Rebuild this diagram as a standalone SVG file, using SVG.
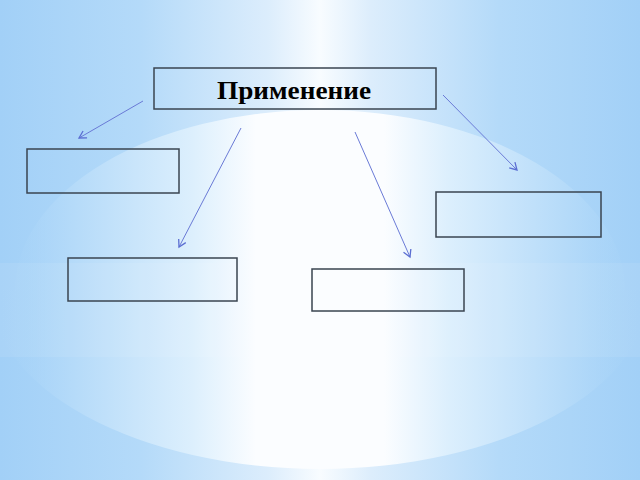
<svg xmlns="http://www.w3.org/2000/svg" width="640" height="480" viewBox="0 0 640 480">
  <defs>
    <linearGradient id="bg" x1="0" y1="0" x2="640" y2="0" gradientUnits="userSpaceOnUse">
      <stop offset="0" stop-color="#a2d0f7"/>
      <stop offset="0.22" stop-color="#b4daf9"/>
      <stop offset="0.42" stop-color="#dcedfc"/>
      <stop offset="0.5" stop-color="#f8fcff"/>
      <stop offset="0.58" stop-color="#dcedfc"/>
      <stop offset="0.78" stop-color="#b4daf9"/>
      <stop offset="1" stop-color="#a2d0f7"/>
    </linearGradient>
    <linearGradient id="ell" x1="0" y1="0" x2="640" y2="0" gradientUnits="userSpaceOnUse">
      <stop offset="0" stop-color="#a6d3f8" stop-opacity="0"/>
      <stop offset="0.12" stop-color="#b6dbf9" stop-opacity="1"/>
      <stop offset="0.3" stop-color="#dcefFd"/>
      <stop offset="0.4" stop-color="#fbfdff"/>
      <stop offset="0.6" stop-color="#fbfdff"/>
      <stop offset="0.7" stop-color="#dcefFd"/>
      <stop offset="0.88" stop-color="#b6dbf9" stop-opacity="1"/>
      <stop offset="1" stop-color="#a6d3f8" stop-opacity="0"/>
    </linearGradient>
    <marker id="arr" markerWidth="10" markerHeight="10" refX="8" refY="5" orient="auto" markerUnits="userSpaceOnUse">
      <path d="M1,1 L8,5 L1,9" fill="none" stroke="#5b6ed2" stroke-width="1.3"/>
    </marker>
    <style>
      .box { fill: none; stroke: #3a4450; stroke-width: 1.5; }
      .conn { stroke: #6a7ad6; stroke-width: 1; fill: none; marker-end: url(#arr); }
      .title { font-family: "Liberation Serif", "Times New Roman", serif; font-weight: bold; font-size: 26px; fill: #000; }
    </style>
  </defs>

  <g id="background">
    <rect x="0" y="0" width="640" height="480" fill="url(#bg)"/>
    <path d="M15,290 A305,180 0 0 1 625,290 L650,290 A330,179 0 0 1 -10,290 Z" fill="url(#ell)"/>
    <rect x="0" y="263" width="640" height="94" fill="#ffffff" opacity="0.08"/>
  </g>

  <g id="connectors">
    <line class="conn" x1="143" y1="101" x2="79" y2="138"/>
    <line class="conn" x1="241" y1="128" x2="179" y2="247"/>
    <line class="conn" x1="355" y1="132" x2="410" y2="257"/>
    <line class="conn" x1="443" y1="95" x2="517" y2="170"/>
  </g>

  <g id="node-title">
    <rect class="box" x="154" y="68" width="282" height="41"/>
    <text class="title" x="294" y="99" text-anchor="middle" textLength="154" lengthAdjust="spacingAndGlyphs">Применение</text>
  </g>
  <g id="node-left">
    <rect class="box" x="27" y="149" width="152" height="44"/>
  </g>
  <g id="node-bottom-left">
    <rect class="box" x="68" y="258" width="169" height="43"/>
  </g>
  <g id="node-bottom-center">
    <rect class="box" x="312" y="269" width="152" height="42"/>
  </g>
  <g id="node-right">
    <rect class="box" x="436" y="192" width="165" height="45"/>
  </g>
</svg>
